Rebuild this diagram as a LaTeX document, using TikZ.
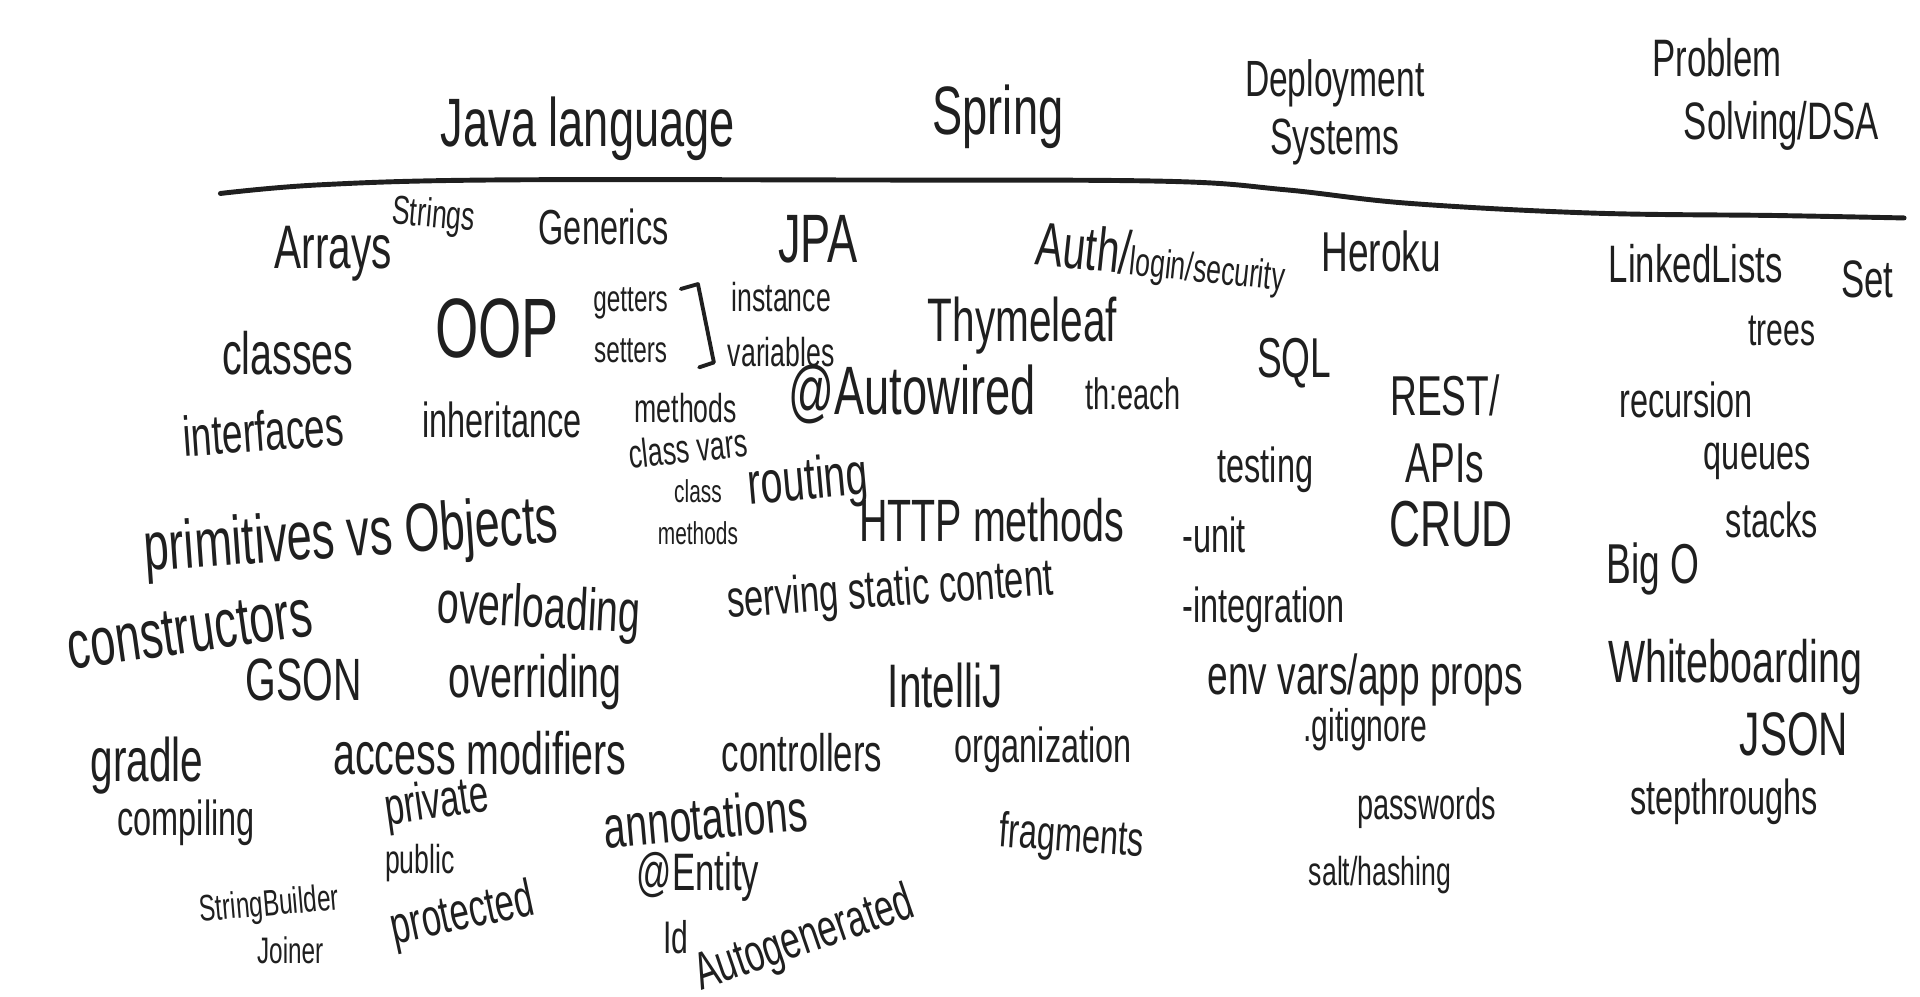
\documentclass[tikz,border=0pt]{standalone}
\usepackage{fontspec}
\newfontfamily\handfont[FakeStretch=0.66]{Liberation Sans}
\definecolor{ink}{HTML}{1F1F1F}
\usetikzlibrary{positioning}

\begin{document}
\begin{tikzpicture}[
  x=0.1225mm, y=-0.1225mm,
  hw/.style={font=\handfont\fontsize{#1}{#1}\selectfont, text=ink,
    inner sep=0pt, align=center},
  hw/.default=14,
  pen/.style={draw=ink, line width=1.1pt, line cap=round, line join=round}
]
\useasboundingbox (0,0) rectangle (1568,814);

% column headings
\node[hw=19.5] (java) at (480,105) {Java language};
\node[hw=19.5] (spring) at (815,95) {Spring};
\node[hw=14.5] (deploy) at (1090,92) {Deployment\\[2pt]Systems};
\node[hw=15, align=left] (dsa) at (1442,77) {Problem\\[3pt]\hspace{9pt}Solving/DSA};
\draw[pen, line width=1.4pt] plot[smooth, tension=0.6] coordinates
  {(180,158) (260,151) (400,147) (700,147) (950,148) (1050,155)
   (1150,166) (1300,174) (1450,176) (1555,178)};

% Java language
\node[hw=17.5] (arrays) at (272,207) {Arrays};
\node[hw=11.5, rotate=-5] (strings) at (354,177) {Strings};
\node[hw=14] (generics) at (493,185) {Generics};
\node[hw=17] (classes) at (235,288) {classes};
\node[hw=24] (oop) at (406,268) {OOP};
\node[hw=10.5] (getset) at (515,266) {getters\\[4pt]setters};
\draw[pen] (556,236) -- (570,232) -- (583,296) -- (571,300);
\node[hw=11.5] (instvars) at (638,265) {instance\\[4pt]variables};
\node[hw=16, rotate=4] (interfaces) at (215,352) {interfaces};
\node[hw=14] (inherit) at (410,343) {inheritance};
\node[hw=11.5] (methods) at (560,333) {methods};
\node[hw=11.5, rotate=6] (classvars) at (562,366) {class vars};
\node[hw=9] (classmeth) at (570,418) {class\\[3pt]methods};
\node[hw=19.5, rotate=4] (primitives) at (287,440) {primitives vs Objects};
\node[hw=19.5, rotate=8] (constructors) at (155,515) {constructors};
\node[hw=17, rotate=-3] (overloading) at (440,500) {overloading};
\node[hw=17] (gson) at (248,555) {GSON};
\node[hw=17] (overriding) at (437,557) {overriding};
\node[hw=17.5] (gradle) at (120,625) {gradle};
\node[hw=17] (access) at (392,615) {access modifiers};
\node[hw=14] (compiling) at (152,672) {compiling};
\node[hw=15, rotate=8] (private) at (357,657) {private};
\node[hw=11.5] (public) at (343,705) {public};
\node[hw=15, rotate=12] (protected) at (378,748) {protected};
\node[hw=10.5, rotate=5] (sbuilder) at (220,740) {StringBuilder};
\node[hw=10.5] (joiner) at (237,776) {Joiner};

% Spring
\node[hw=19.5] (jpa) at (668,195) {JPA};
\node[hw=17.5] (thymeleaf) at (835,266) {Thymeleaf};
\node[hw=19.5] (autowired) at (745,322) {@Autowired};
\node[hw=12.5] (theach) at (925,322) {th:each};
\node[hw=17, rotate=5] (routing) at (660,395) {routing};
\node[hw=17] (http) at (810,425) {HTTP methods};
\node[hw=15, rotate=4] (static) at (727,484) {serving static content};
\node[hw=17.5] (intellij) at (772,560) {IntelliJ};
\node[hw=15] (controllers) at (655,615) {controllers};
\node[hw=14] (organization) at (852,612) {organization};
\node[hw=17, rotate=5] (annotations) at (576,668) {annotations};
\node[hw=15] (entity) at (570,716) {@Entity};
\node[hw=13] (id) at (552,765) {Id};
\node[hw=15, rotate=19] (autogen) at (657,768) {Autogenerated};
\node[hw=14, rotate=-4] (fragments) at (875,685) {fragments};
\node[hw=17.5, rotate=-6] (auth) at (948,212)
  {Auth/{\fontsize{11.5}{11.5}\selectfont login/security}};

% Deployment Systems
\node[hw=16] (heroku) at (1128,205) {Heroku};
\node[hw=16] (sql) at (1057,297) {SQL};
\node[hw=14, align=left, anchor=north west] (testing) at (965,364)
  {\hspace{10pt}testing\\[6pt] -unit\\[6pt] -integration};
\node[hw=16] (rest) at (1180,350) {REST/\\[3pt]APIs};
\node[hw=18.5] (crud) at (1185,428) {CRUD};
\node[hw=16] (envvars) at (1115,555) {env vars/app props};
\node[hw=13] (gitignore) at (1115,596) {.gitignore};
\node[hw=12.5] (passwords) at (1165,660) {passwords};
\node[hw=11.5] (salt) at (1127,715) {salt/hashing};

% Problem Solving/DSA
\node[hw=15] (linked) at (1385,215) {LinkedLists};
\node[hw=15] (set) at (1525,228) {Set};
\node[hw=13] (trees) at (1455,270) {trees};
\node[hw=14] (recursion) at (1377,327) {recursion};
\node[hw=14] (queues) at (1435,377) {queues};
\node[hw=14] (stacks) at (1447,425) {stacks};
\node[hw=16] (bigo) at (1350,465) {Big O};
\node[hw=17] (whiteboard) at (1417,545) {Whiteboarding};
\node[hw=17.5] (json) at (1465,600) {JSON};
\node[hw=14] (steps) at (1408,655) {stepthroughs};
\end{tikzpicture}
\end{document}
